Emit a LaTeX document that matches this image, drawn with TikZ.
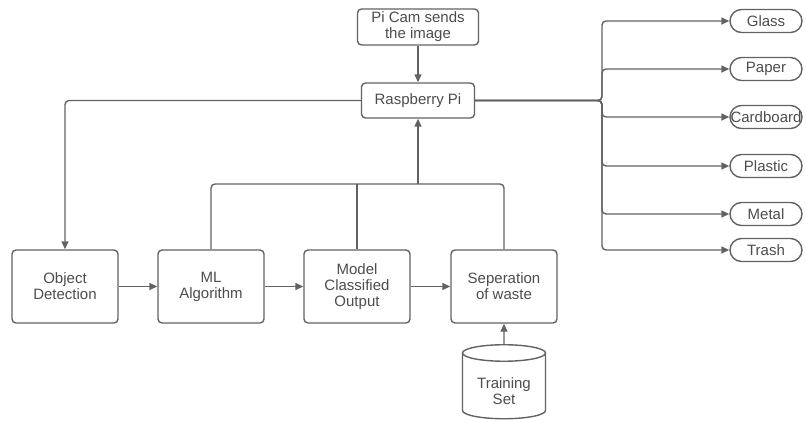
\documentclass[tikz,border=0pt]{standalone}
\usepackage{fontspec}
\setmainfont{Liberation Sans}
\usetikzlibrary{arrows.meta,shapes.geometric}
\definecolor{linegray}{HTML}{626262}
\definecolor{textgray}{HTML}{4c4c4c}

\begin{document}
\begin{tikzpicture}[x=1pt,y=-1pt,line width=1.4pt,color=linegray,text=textgray,
	font=\fontsize{15}{16}\selectfont,
	>={Triangle[length=8pt,width=7pt]},
	box/.style={draw,rounded corners=4pt,align=center,inner sep=0pt},
	stage/.style={box,minimum width=106pt,minimum height=73pt},
	bin/.style={draw,rounded corners=11.5pt,minimum width=72pt,minimum height=23pt,inner xsep=0pt}]
			\useasboundingbox (0,0) rectangle (806,421);
		
			\node[box,minimum width=121pt,minimum height=36pt] (cam) at (418,27) {Pi Cam sends\\the image};
			\node[box,minimum width=113pt,minimum height=35pt] (rpi) at (418,100.5) {Raspberry Pi};
		
			\node[stage] (obj) at (65,286.5) {Object\\Detection};
			\node[stage] (ml) at (211,286.5) {ML\\Algorithm};
			\node[stage] (mco) at (357,286.5) {Model\\Classified\\Output};
			\node[stage] (sep) at (504,286.5) {Seperation\\of waste};
			\node[draw,cylinder,shape border rotate=90,aspect=0.33,minimum width=83pt,minimum height=74pt,inner sep=25pt,
				label={[align=center,yshift=-1pt]center:{Training\\Set}}] (train) at (504,390) {};
		
			\node[bin] (glass) at (766,21) {Glass};
			\node[bin] (paper) at (766,69) {Paper};
			\node[bin] (cardboard) at (766,117) {Cardboard};
			\node[bin] (plastic) at (766,166) {Plastic};
			\node[bin] (metal) at (766,214) {Metal};
			\node[bin] (trash) at (766,250) {Trash};
		
			\coordinate (fork) at (602,100.5);
			\coordinate (join) at (418,184);
		
			\draw[->] (cam) -- (rpi);
			\draw[->,rounded corners=4pt] (rpi.west) -| (obj.north);
			\foreach \b in {glass,paper,cardboard,plastic,metal,trash}
				\draw[->,rounded corners=4pt] (rpi.east) -- (fork) |- (\b.west);
		
			\draw[->] (obj) -- (ml);
			\draw[->] (ml) -- (mco);
			\draw[->] (mco) -- (sep);
			\draw[->] (train.north) -- (sep.south);
		
			\draw[rounded corners=4pt] (ml.north) |- (join) -| (sep.north);
			\draw (mco.north) -- (mco.north |- join);
			\draw[->] (join) -- (rpi.south);
		\end{tikzpicture}
\end{document}
